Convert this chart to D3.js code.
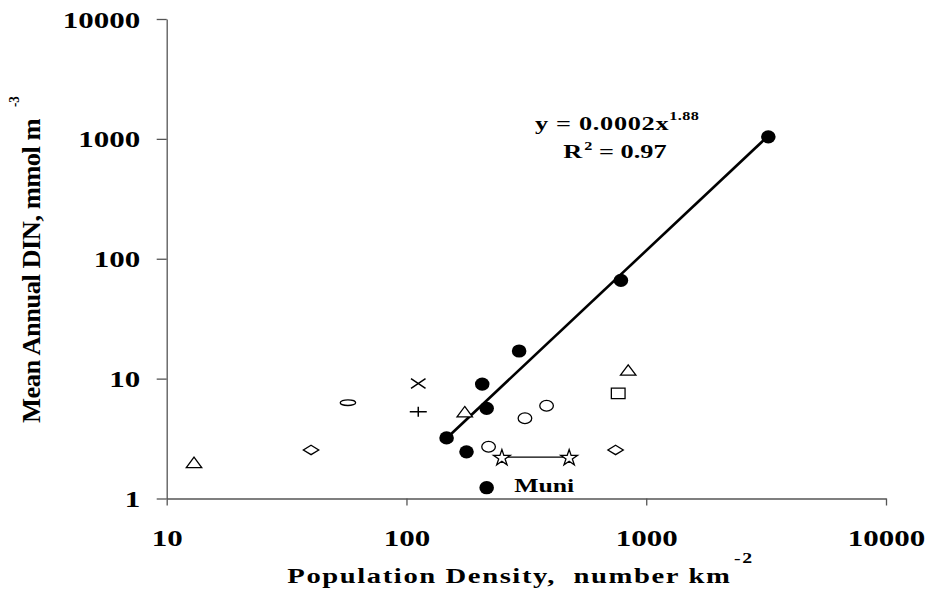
<!DOCTYPE html>
<html>
<head>
<meta charset="utf-8">
<script src="https://cdn.jsdelivr.net/npm/d3@7"></script>
<style>
  html, body { margin: 0; padding: 0; background: #fff; }
  svg text { font-family: "Liberation Serif", "Times New Roman", serif; font-weight: bold; fill: #000; }
</style>
</head>
<body>
<svg id="chart" width="929" height="610"></svg>
<script>
// ---------- data (population density, mean annual DIN) ----------
const xTicks = [10, 100, 1000, 10000];
const yTicks = [1, 10, 100, 1000, 10000];

const filledCircles = [[147, 3.2], [178, 2.45], [207, 9.0], [216, 5.65], [295, 17], [784, 66], [3230, 1040]];
const muniPoint = [[216, 1.23]];
const muniLabel = "Muni";
const openCircles = [[220, 2.7], [312, 4.67], [384, 5.94]];
const flatOvals = [[57, 6.3]];
const triangles = [[13, 2.0], [175, 5.3], [841, 11.8]];
const diamonds = [[40, 2.54], [745, 2.54]];
const squares = [[764, 7.54]];
const crosses = [[112, 9.1]];
const pluses = [[112, 5.3]];
const stars = [[250, 2.21], [477, 2.21]];

const trendCoef = 0.000268;
const trendExp = 1.88;
const trendRange = [147, 3230];
const eqText = "y = 0.0002x";
const eqExp = "1.88";
const r2Text = " = 0.97";

const xTitle = "Population Density,\u00a0 number km";
const xTitleSup = "-2";
const yTitle = "Mean Annual DIN, mmol m";
const yTitleSup = "-3";

// ---------- layout ----------
const SX = 1.32; // horizontal stretch of the original picture
const svg = d3.select("#chart");
const x = d3.scaleLog().domain([10, 10000]).range([166.7, 886]);
const y = d3.scaleLog().domain([1, 10000]).range([498.5, 19]);

// axes
const yAxis = svg.append("g").attr("transform", `translate(${x(10)},0)`)
  .call(d3.axisLeft(y).tickValues(yTicks).tickFormat(d3.format("d")).tickSizeInner(10).tickSizeOuter(0));
const xAxis = svg.append("g").attr("transform", `translate(0,${y(1)})`)
  .call(d3.axisBottom(x).tickValues(xTicks).tickFormat(d3.format("d")).tickSizeInner(7).tickSizeOuter(0));

[yAxis, xAxis].forEach(a => {
  a.select(".domain").attr("stroke", "#555").attr("stroke-width", 1.3);
  a.selectAll(".tick line").attr("stroke", "#555").attr("stroke-width", 1.3);
  a.selectAll(".tick text").style("font-family", '"Liberation Serif", "Times New Roman", serif')
    .style("font-weight", "bold").attr("fill", "#000").attr("font-size", 23.5);
});
yAxis.selectAll(".tick text").attr("x", -26.5 / SX).attr("dy", "0").attr("y", 8)
  .attr("text-anchor", "end").attr("transform", `scale(${SX},1)`);
xAxis.selectAll(".tick text").attr("y", 48).attr("dy", "0")
  .attr("text-anchor", "middle").attr("transform", `scale(${SX},1)`);

// trend line
const trendPts = trendRange.map(v => [v, trendCoef * Math.pow(v, trendExp)]);
svg.append("path")
  .attr("d", d3.line().x(d => x(d[0])).y(d => y(d[1]))(trendPts))
  .attr("fill", "none").attr("stroke", "#000").attr("stroke-width", 2.6);

// star connector
svg.append("path")
  .attr("d", d3.line().x(d => x(d[0])).y(d => y(d[1]))(stars))
  .attr("fill", "none").attr("stroke", "#000").attr("stroke-width", 1.3);

// marker shapes
function triPath(w, h) { return `M0,${-h/2}L${w/2},${h/2}L${-w/2},${h/2}Z`; }
function diaPath(w, h) { return `M0,${-h/2}L${w/2},0L0,${h/2}L${-w/2},0Z`; }
function sqPath(w, h) { return `M${-w/2},${-h/2}H${w/2}V${h/2}H${-w/2}Z`; }
function starPath(rx, ry) {
  const pts = [];
  for (let i = 0; i < 10; i++) {
    const r = i % 2 === 0 ? 1 : 0.382;
    const a = -Math.PI / 2 + i * Math.PI / 5;
    pts.push([Math.cos(a) * r * rx, Math.sin(a) * r * ry + 0.8]);
  }
  return "M" + pts.map(p => p.join(",")).join("L") + "Z";
}
function xPath(w, h) { return `M${-w/2},${-h/2}L${w/2},${h/2}M${-w/2},${h/2}L${w/2},${-h/2}`; }
function plusPath(w, h) { return `M${-w/2},0H${w/2}M0,${-h/2}V${h/2}`; }

function place(sel) { return sel.attr("transform", d => `translate(${x(d[0])},${y(d[1])})`); }

const g = svg.append("g");
place(g.selectAll(".fc").data(filledCircles.concat(muniPoint)).join("ellipse").attr("class", "fc"))
  .attr("rx", 7.3).attr("ry", 6.6).attr("fill", "#000");
place(g.selectAll(".oc").data(openCircles).join("ellipse").attr("class", "oc"))
  .attr("rx", 6.8).attr("ry", 5.4).attr("fill", "#fff").attr("stroke", "#000").attr("stroke-width", 1.3);
place(g.selectAll(".ov").data(flatOvals).join("ellipse").attr("class", "ov"))
  .attr("rx", 7.7).attr("ry", 2.8).attr("fill", "#fff").attr("stroke", "#000").attr("stroke-width", 1.3);
place(g.selectAll(".tr").data(triangles).join("path").attr("class", "tr"))
  .attr("d", triPath(15.4, 10.4)).attr("fill", "#fff").attr("stroke", "#000").attr("stroke-width", 1.3);
place(g.selectAll(".di").data(diamonds).join("path").attr("class", "di"))
  .attr("d", diaPath(15.4, 9.4)).attr("fill", "#fff").attr("stroke", "#000").attr("stroke-width", 1.3);
place(g.selectAll(".sq").data(squares).join("path").attr("class", "sq"))
  .attr("d", sqPath(13.7, 10.4)).attr("fill", "#fff").attr("stroke", "#000").attr("stroke-width", 1.3);
place(g.selectAll(".st").data(stars).join("path").attr("class", "st"))
  .attr("d", starPath(8.8, 8.5)).attr("fill", "#fff").attr("stroke", "#000").attr("stroke-width", 1.3);
place(g.selectAll(".cx").data(crosses).join("path").attr("class", "cx"))
  .attr("d", xPath(14.5, 9.6)).attr("fill", "none").attr("stroke", "#000").attr("stroke-width", 1.5);
place(g.selectAll(".pl").data(pluses).join("path").attr("class", "pl"))
  .attr("d", plusPath(17, 10)).attr("fill", "none").attr("stroke", "#000").attr("stroke-width", 1.5);

// Muni label
svg.append("text").attr("transform", `translate(${x(muniPoint[0][0]) + 27.5},${y(muniPoint[0][1]) + 4.5}) scale(${SX},1)`)
  .attr("font-size", 19.5).text(muniLabel);

// equation
const eq = svg.append("text").attr("transform", `translate(535,130) scale(1.35,1)`).attr("font-size", 19.5)
  .attr("letter-spacing", 0.5);
eq.append("tspan").text(eqText);
eq.append("tspan").attr("font-size", 12).attr("dy", -10).attr("letter-spacing", 0.3).text(eqExp);

const r2 = svg.append("text").attr("transform", `translate(563.3,157.5) scale(1.35,1)`).attr("font-size", 19.5);
r2.append("tspan").text("R");
r2.append("tspan").attr("font-size", 12).attr("dy", -8).attr("dx", 1.5).text("2");
r2.append("tspan").attr("dy", 8).text(r2Text);

// x title
const xt = svg.append("text").attr("transform", `translate(287.3,582.7) scale(${SX},1)`)
  .attr("font-size", 21.7).attr("letter-spacing", 1.2);
xt.append("tspan").text(xTitle);
xt.append("tspan").attr("font-size", 15).attr("dy", -19.5).attr("dx", 2).text(xTitleSup);

// y title
svg.append("text").attr("transform", `translate(40,423) scale(0.95,1) rotate(-90)`)
  .attr("font-size", 26.5).attr("letter-spacing", -0.5).text(yTitle);
svg.append("text").attr("transform", `translate(19,107) scale(1.1,1) rotate(-90)`)
  .attr("font-size", 13).text(yTitleSup);
</script>
</body>
</html>
